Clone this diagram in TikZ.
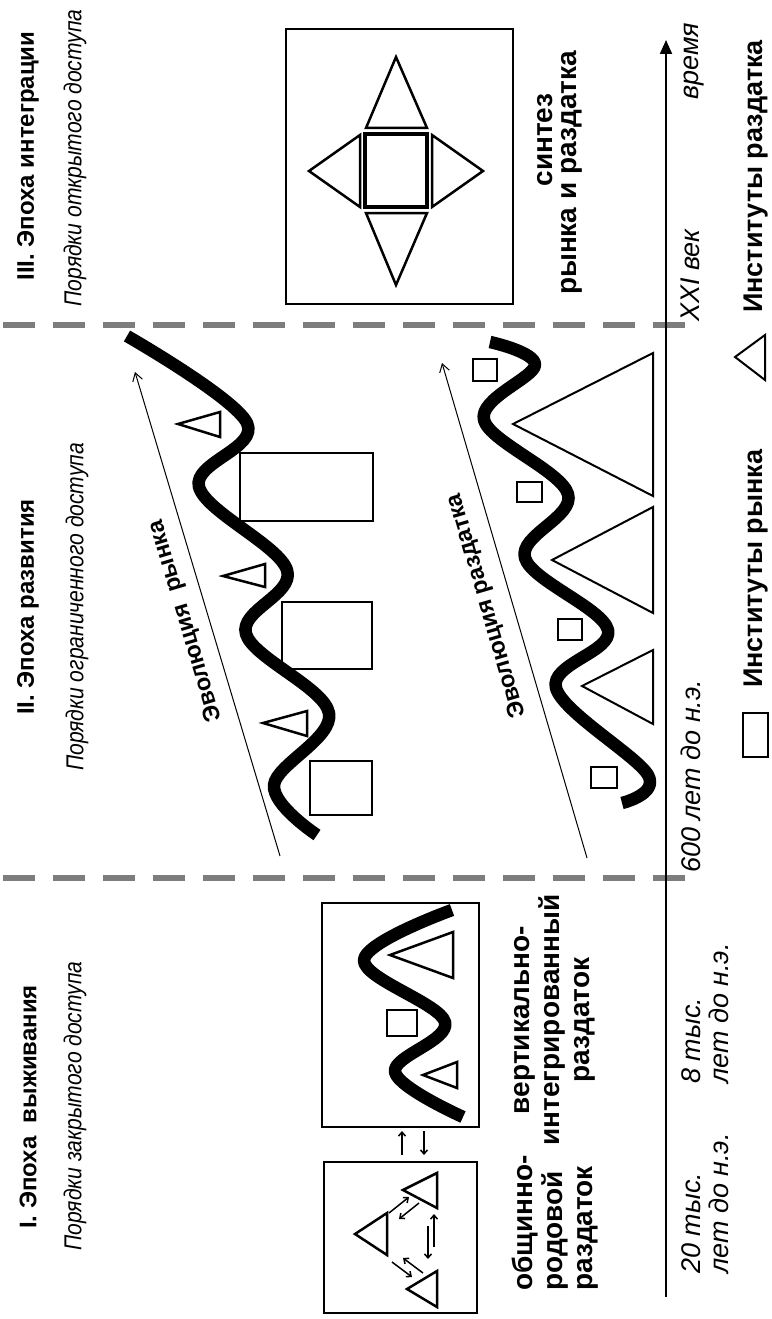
\documentclass[tikz,border=0pt]{standalone}
\usepackage{fontspec}
\setmainfont{Liberation Sans}
\newfontfamily\narrowsans{Liberation Sans}[FakeStretch=0.86]
\usetikzlibrary{arrows.meta}
\definecolor{sepgray}{RGB}{125,125,125}
\begin{document}
\begin{tikzpicture}[x=1pt,y=-1pt,
  wave/.style={line width=12.5pt,line cap=butt,line join=round},
  sepline/.style={draw=sepgray,line width=6pt,dash pattern=on 32pt off 18pt},
  inst/.style={draw,line width=2.5pt,line join=miter},
  boxframe/.style={draw,line width=2pt},
  evo/.style={line width=1pt,-{Straight Barb[length=8pt,width=10pt]}},
  minor/.style={line width=1.5pt,-{Straight Barb[length=4pt,width=7pt]}},
  ttl/.style={rotate=90,inner sep=0pt,font=\fontsize{24}{30}\selectfont\bfseries},
  subttl/.style={rotate=90,inner sep=0pt,font=\narrowsans\fontsize{24.5}{28}\selectfont\itshape},
  lbl/.style={rotate=90,inner sep=0pt,font=\fontsize{28}{30}\selectfont\bfseries},
  tlbl/.style={rotate=90,inner sep=0pt,anchor=west,align=left,font=\fontsize{27}{28}\selectfont\itshape},
  evolbl/.style={inner sep=0pt,font=\fontsize{23.5}{26}\selectfont\bfseries},
]
\useasboundingbox (0,0) rectangle (771,1319);
\fill[white] (0,0) rectangle (771,1319);

% separators
\draw[sepline] (3,325) -- (685,325);
\draw[sepline] (3,878) -- (685,878);

% time axis
\coordinate (tstart) at (666,1297);
\coordinate (tend) at (666,40);
\draw[line width=2pt,-{Triangle[length=14pt,width=12pt]}] (tstart) -- (tend);

% titles
\node[ttl] (t3) at (28,156) {III. Эпоха интеграции};
\node[subttl] (s3) at (75,158) {Порядки открытого доступа};
\node[ttl] (t2) at (28,607) {II. Эпоха развития};
\node[subttl] (s2) at (77,607) {Порядки ограниченного доступа};
\node[ttl] (t1) at (28,1107) {I. Эпоха\ \ выживания};
\node[subttl] (s1) at (75,1106) {Порядки закрытого доступа};

% ---- Epoch III ----
\draw[boxframe] (286,29) rectangle (513,304);
\draw[line width=3.5pt] (365,134) rectangle (427,207);
\draw[inst] (396,57) -- (427,128) -- (366,128) -- cycle;
\draw[inst] (396,285) -- (427,213) -- (366,213) -- cycle;
\draw[inst] (309,171) -- (360,135) -- (360,207) -- cycle;
\draw[inst] (483,171) -- (432,135) -- (432,207) -- cycle;
\node[lbl] (syn1) at (545,140) {синтез};
\node[lbl] (syn2) at (572,173) {рынка и раздатка};

% ---- Epoch II ----
% market row
\draw[inst] (240,453) rectangle (373,521);
\draw[inst] (282,602) rectangle (372,669);
\draw[inst] (310,761) rectangle (372,815);
\draw[inst] (178,424) -- (220,412) -- (220,437) -- cycle;
\draw[inst] (223,576) -- (265,564) -- (265,587) -- cycle;
\draw[inst] (263,723) -- (307,711) -- (307,736) -- cycle;
\draw[wave] plot[smooth,tension=0.6] coordinates {(127,336) (247,423) (199,487) (287,570) (246,634) (329,713) (274,785) (317,835)};
\coordinate (e1a) at (280,856);
\coordinate (e1b) at (135,372);
\draw[evo] (e1a) -- (e1b);
\node[evolbl,rotate=106.7] (evo1) at (186,621) {Эволюция\ \ рынка};

% distribution row
\draw[inst,line width=2pt] (513,424) -- (653,353) -- (653,496) -- cycle;
\draw[inst,line width=2pt] (552,560) -- (653,507) -- (653,613) -- cycle;
\draw[inst,line width=2pt] (582,686) -- (653,650) -- (653,724) -- cycle;
\draw[inst] (473,359) rectangle (497,381);
\draw[inst] (517,482) rectangle (542,502);
\draw[inst] (558,619) rectangle (582,640);
\draw[inst] (591,767) rectangle (617,788);
\draw[wave] plot[smooth,tension=0.6] coordinates {(490,342) (535,365) (484,420) (568,494) (525,558) (608,630) (556,688) (648,775) (622,803)};
\coordinate (e2a) at (587,858);
\coordinate (e2b) at (442,363);
\draw[evo] (e2a) -- (e2b);
\node[evolbl,rotate=106.3] (evo2) at (487,606) {Эволюция раздатка};

% ---- Epoch I ----
\draw[boxframe] (322,903) rectangle (479,1127);
\draw[boxframe] (324,1162) rectangle (477,1313);
\draw[inst] (390,955) -- (453,932) -- (453,978) -- cycle;
\draw[inst] (423,1075) -- (457,1062) -- (457,1088) -- cycle;
\draw[inst] (387,1010) rectangle (417,1036);
\draw[wave] plot[smooth,tension=0.6] coordinates {(452,910) (364,960) (445,1022) (395,1072) (463,1117)};

\draw[inst] (403,1190) -- (437,1173) -- (437,1208) -- cycle;
\draw[inst] (355,1234) -- (387,1213) -- (387,1255) -- cycle;
\draw[inst] (407,1289) -- (437,1271) -- (437,1307) -- cycle;

\coordinate (a1s) at (389,1213); \coordinate (a1e) at (409,1197);
\coordinate (a2s) at (419,1203); \coordinate (a2e) at (399,1219);
\coordinate (b1s) at (392,1262); \coordinate (b1e) at (412,1277);
\coordinate (b2s) at (423,1273); \coordinate (b2e) at (403,1258);
\coordinate (c1s) at (434,1247); \coordinate (c1e) at (434,1214);
\coordinate (c2s) at (428,1226); \coordinate (c2e) at (428,1259);
\draw[minor] (a1s) -- (a1e);
\draw[minor] (a2s) -- (a2e);
\draw[minor] (b1s) -- (b1e);
\draw[minor] (b2s) -- (b2e);
\draw[minor] (c1s) -- (c1e);
\draw[minor] (c2s) -- (c2e);

\coordinate (u1s) at (402,1155); \coordinate (u1e) at (402,1131);
\coordinate (d1s) at (424,1131); \coordinate (d1e) at (424,1155);
\draw[minor] (u1s) -- (u1e);
\draw[minor] (d1s) -- (d1e);

\node[lbl,anchor=west,align=left] (c1) at (555,1291) {общинно-\\родовой\\раздаток};
\node[lbl,align=center] (c2) at (555,1020) {вертикально-\\интегрированный\\раздаток};

% time labels
\node[tlbl] (d20) at (705,1274) {20 тыс.\\лет до н.э.};
\node[tlbl] (d8) at (705,1084) {8 тыс.\\лет до н.э.};
\node[tlbl] (d600) at (691,873) {600 лет до н.э.};
\node[tlbl] (d21) at (690,322) {XXI век};
\node[tlbl] (dtime) at (694,100) {время};

% legend
\draw[inst,line width=2pt] (735,357) -- (765,335) -- (765,380) -- cycle;
\node[lbl,anchor=west,font=\fontsize{27}{30}\selectfont\bfseries] (lg2) at (756,313) {Институты раздатка};
\draw[inst] (743,713) rectangle (768,757);
\node[lbl,anchor=west,font=\fontsize{27}{30}\selectfont\bfseries] (lg1) at (756,688) {Институты рынка};
\end{tikzpicture}
\end{document}
